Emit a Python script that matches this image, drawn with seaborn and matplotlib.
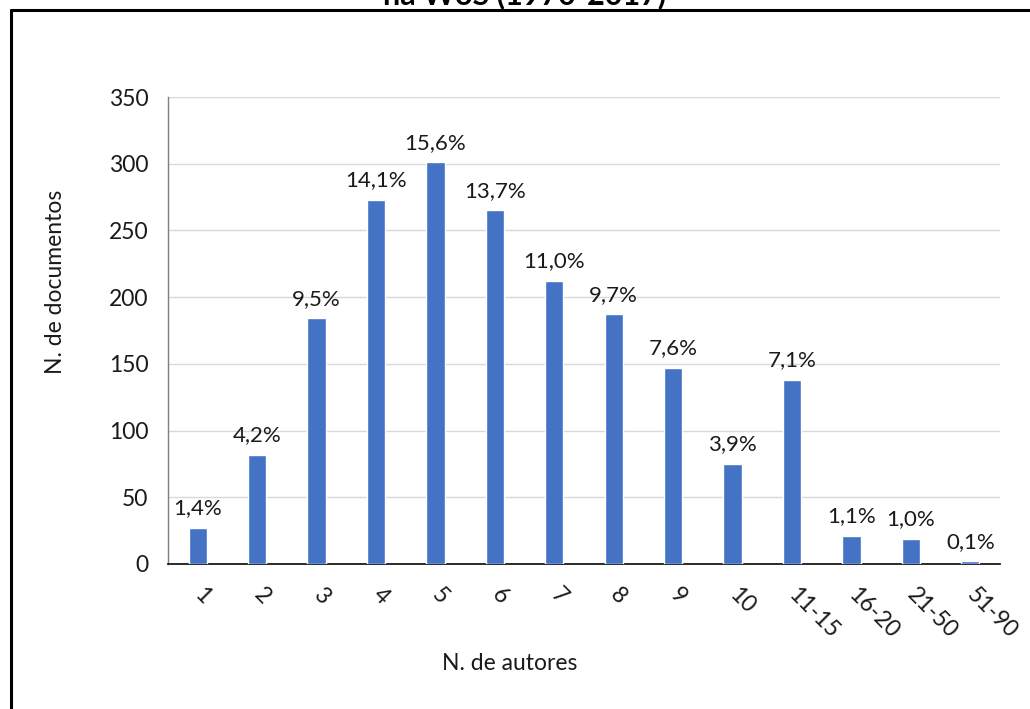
import matplotlib
matplotlib.use("Agg")
import matplotlib.pyplot as plt
import seaborn as sns
import pandas as pd
from matplotlib.lines import Line2D

# Number of authors per document
categorias = ["1", "2", "3", "4", "5", "6", "7", "8", "9", "10",
              "11-15", "16-20", "21-50", "51-90"]
documentos = [27, 82, 184, 273, 301, 265, 212, 187, 147, 75, 138, 21, 19, 2]
y_ticks = [0, 50, 100, 150, 200, 250, 300, 350]

total = sum(documentos)
rotulos = [f"{100 * v / total:.1f}%".replace(".", ",") for v in documentos]

df = pd.DataFrame({"autores": categorias, "docs": documentos})

sns.set_theme(style="white")
plt.rcParams["font.family"] = ["Lato", "DejaVu Sans"]

fig = plt.figure(figsize=(10.30, 7.09), dpi=100)
ax = fig.add_axes([168 / 1030, 1 - 564 / 709, 832 / 1030, 467 / 709])

sns.barplot(data=df, x="autores", y="docs", color="#4472C4", saturation=1,
            width=0.31, ax=ax, zorder=3)

ax.set_ylim(0, 350)
ax.set_xlim(-0.5, len(categorias) - 0.5)
ax.set_yticks(y_ticks)
ax.yaxis.grid(True, color="#d9d9d9", linewidth=1, zorder=0)
ax.set_axisbelow(True)

for s in ["top", "right"]:
    ax.spines[s].set_visible(False)
ax.spines["left"].set_color("#7f7f7f")
ax.spines["left"].set_linewidth(1)
ax.spines["bottom"].set_color("#1a1a1a")
ax.spines["bottom"].set_linewidth(1.3)

ax.tick_params(axis="y", length=0, pad=14, labelsize=16.5, labelcolor="#1a1a1a")
ax.tick_params(axis="x", length=0, pad=20, labelsize=16.5, labelcolor="#1a1a1a")
for lbl in ax.get_xticklabels():
    lbl.set_rotation(-45)
    lbl.set_ha("left")
    lbl.set_va("center")
    lbl.set_rotation_mode("anchor")

for i, (v, r) in enumerate(zip(documentos, rotulos)):
    ax.annotate(r, (i, v), xytext=(0, 7), textcoords="offset points",
                ha="center", va="bottom", fontsize=16, color="#1a1a1a")

ax.set_xlabel("N. de autores", fontsize=16.5, color="#1a1a1a")
ax.set_ylabel("N. de documentos", fontsize=16.5, color="#1a1a1a")
ax.xaxis.set_label_coords((510 - 168) / 832, -(663 - 564) / 467)
ax.yaxis.set_label_coords(-(168 - 55) / 832, (564 - 282) / 467)
ax.xaxis.label.set_va("center")
ax.yaxis.label.set_va("center")

# Outer frame of the chart area
fig.add_artist(Line2D([11 / 1030, 11 / 1030], [0, 1 - 10 / 709],
                      transform=fig.transFigure, color="black", linewidth=2.2))
fig.add_artist(Line2D([11 / 1030, 1.0], [1 - 10 / 709, 1 - 10 / 709],
                      transform=fig.transFigure, color="black", linewidth=2.2))

# Title line sitting above the frame
fig.text(525 / 1030, 1 - 4 / 709, "na WoS (1970-2017)", ha="center",
         va="baseline", fontsize=22, fontweight="bold", color="black")

fig.savefig("out.png", dpi=100)
